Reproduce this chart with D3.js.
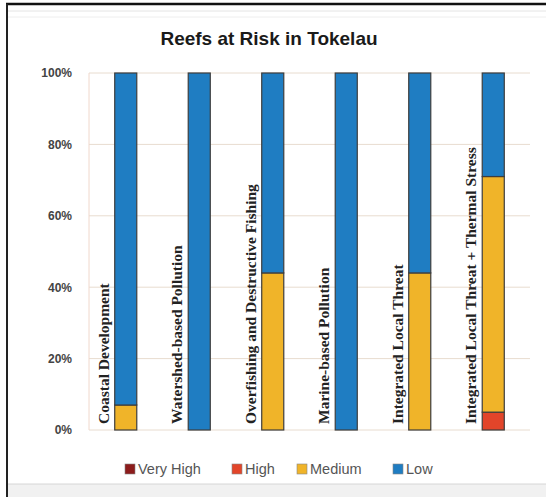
<!DOCTYPE html>
<html><head><meta charset="utf-8">
<script src="https://cdn.jsdelivr.net/npm/d3@7"></script>
<style>body{margin:0;background:#fff;}svg{display:block;}</style>
</head><body>
<script>
const categories = ["Coastal Development","Watershed-based Pollution","Overfishing and Destructive Fishing","Marine-based Pollution","Integrated Local Threat","Integrated Local Threat + Thermal Stress"];
const seriesNames = ["Very High","High","Medium","Low"];
const veryHigh = [0,0,0,0,0,0];
const high = [0,0,0,0,0,5];
const medium = [7,0,44,0,44,66];
const low = [93,100,56,100,56,29];
const yTicks = [0,20,40,60,80,100];
const colors = ["#8c1c1c","#e2452a","#f0b429","#1f7dc2"];

const W=546,H=497;
const svg=d3.select("body").append("svg").attr("width",W).attr("height",H);
svg.append("rect").attr("width",W).attr("height",H).attr("fill","#fff");
// frame
svg.append("line").attr("x1",6).attr("x2",W).attr("y1",4).attr("y2",4).attr("stroke","#111").attr("stroke-width",2.5);
svg.append("line").attr("x1",7).attr("x2",7).attr("y1",4).attr("y2",H).attr("stroke","#222").attr("stroke-width",2);
svg.append("line").attr("x1",8).attr("x2",W).attr("y1",11).attr("y2",11).attr("stroke","#e4e4e4");
svg.append("line").attr("x1",8).attr("x2",W).attr("y1",17).attr("y2",17).attr("stroke","#eeeeee");
svg.append("rect").attr("x",8).attr("y",484).attr("width",W-8).attr("height",13).attr("fill","#f1f1f1");
svg.append("line").attr("x1",8).attr("x2",W).attr("y1",484).attr("y2",484).attr("stroke","#d6d6d6");

const rows = categories.map((c,i)=>({cat:c,"Very High":veryHigh[i],"High":high[i],"Medium":medium[i],"Low":low[i]}));
const stack = d3.stack().keys(seriesNames)(rows);

const x=d3.scaleBand().domain(categories).range([89,530]).paddingInner(0.7).paddingOuter(0.35);
const y=d3.scaleLinear().domain([0,100]).range([430,73]);

// gridlines
svg.append("g").selectAll("line").data(yTicks).join("line")
  .attr("x1",89).attr("x2",530).attr("y1",d=>y(d)).attr("y2",d=>y(d))
  .attr("stroke","#e8dccf").attr("stroke-width",1);
svg.append("line").attr("x1",89).attr("x2",89).attr("y1",y(100)).attr("y2",y(0)).attr("stroke","#f0d8cc");

// y axis
const yAxis=d3.axisLeft(y).tickValues(yTicks).tickFormat(d=>d+"%").tickSize(0).tickPadding(17);
const ga=svg.append("g").attr("transform","translate(89,0)").call(yAxis);
ga.select(".domain").remove();
ga.selectAll("text").attr("font-family","Liberation Sans, Arial, sans-serif").attr("font-size",12).attr("font-weight","bold").attr("fill","#444");

// bars
svg.append("g").selectAll("g").data(stack).join("g").attr("fill",(d,i)=>colors[i])
  .selectAll("rect").data(d=>d.filter(p=>p[1]-p[0]>0)).join("rect")
  .attr("x",d=>x(d.data.cat)).attr("width",x.bandwidth())
  .attr("y",d=>y(d[1])).attr("height",d=>y(d[0])-y(d[1]))
  .attr("stroke","#3d3d3d").attr("stroke-width",1.2);

// category labels
svg.append("g").selectAll("text").data(categories).join("text")
  .attr("transform",d=>`translate(${x(d)+x.bandwidth()/2-17},424) rotate(-90)`)
  .attr("text-anchor","start")
  .attr("font-family","Liberation Serif, Times New Roman, serif").attr("font-weight","bold").attr("font-size",15.5)
  .attr("fill","#222").text(d=>d);

// title
svg.append("text").attr("x",269).attr("y",45).attr("text-anchor","middle")
  .attr("font-family","Liberation Sans, Arial, sans-serif").attr("font-weight","bold").attr("font-size",19)
  .attr("fill","#1a1a1a").text("Reefs at Risk in Tokelau");

// legend
const legX=[125,232,297,393];
const leg=svg.append("g").selectAll("g").data(seriesNames).join("g").attr("transform",(d,i)=>`translate(${legX[i]},464)`);
leg.append("rect").attr("width",10).attr("height",10).attr("fill",(d,i)=>colors[i]).attr("stroke","#888").attr("stroke-width",0.6);
leg.append("text").attr("x",13).attr("y",10).attr("font-family","Liberation Sans, Arial, sans-serif").attr("font-size",14.5).attr("fill","#555").text(d=>d);
</script>
</body></html>
